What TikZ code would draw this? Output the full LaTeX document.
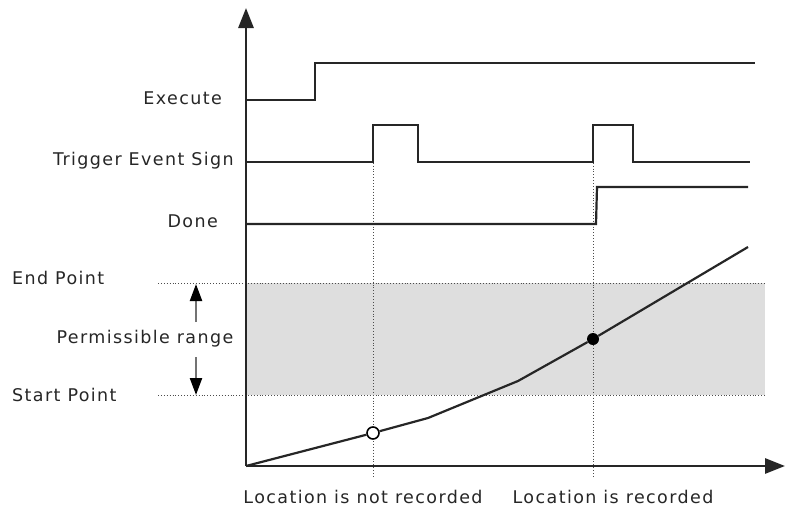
\documentclass[tikz,border=0pt]{standalone}
\usepackage{fontspec}
\setmainfont{Liberation Sans}
\newfontfamily\lblfont[LetterSpace=8]{DejaVu Sans}
\usetikzlibrary{positioning,arrows.meta,calc}

\begin{document}
\begin{tikzpicture}[x=1pt,y=-1pt,
  axis/.style={-{Triangle[length=20pt,width=15pt]}, line width=2.8pt, draw=black!85},
  sig/.style={line width=2.2pt, draw=black!85},
  guide/.style={dotted, line width=0.9pt, draw=black!70},
  rng/.style={-{Triangle[length=17pt,width=12pt,color=black]}, line width=2.2pt, draw=black!55},
  lab/.style={font=\lblfont\fontsize{17.5}{19}\selectfont, text=black!85, inner sep=0pt}]

\definecolor{bandcol}{RGB}{222,222,222}
\useasboundingbox (0,0) rectangle (786,512);

% ===== PERMISSIBLE BAND =====
\fill[bandcol] (246,283) rectangle (765,395);
\coordinate (endL) at (158,283);
\coordinate (endR) at (765,283);
\coordinate (startL) at (158,395);
\coordinate (startR) at (765,395);
\draw[guide] (endL) -- (endR);
\draw[guide] (startL) -- (startR);

% ===== GUIDES =====
\coordinate (g1top) at (373,125);
\coordinate (g1bot) at (373,477);
\coordinate (g2top) at (593,125);
\coordinate (g2bot) at (593,477);
\draw[guide] (g1top) -- (g1bot);
\draw[guide] (g2top) -- (g2bot);

% ===== AXES =====
\coordinate (orig) at (246,466);
\coordinate (ytip) at (246,8);
\coordinate (xtip) at (785,466);
\draw[axis] (orig) -- (ytip);
\draw[axis] (orig) -- (xtip);

% ===== SIGNALS =====
\draw[sig] (246,100) -- (315,100) -- (315,63) -- (755,63);
\draw[sig] (246,162) -- (373,162) -- (373,125) -- (418,125) -- (418,162)
  -- (593,162) -- (593,125) -- (633,125) -- (633,162) -- (750,162);
\draw[sig] (246,224) -- (596,224) -- (597,187) -- (748,187);

% ===== POSITION CURVE =====
\node[circle, draw=black, line width=1.6pt, fill=white, minimum size=12pt, inner sep=0pt] (miss) at (373,433) {};
\node[circle, fill=black, minimum size=12pt, inner sep=0pt] (hit) at (593,339) {};
\draw[sig] (orig) -- (miss);
\draw[sig] (miss) -- (428,418) -- (518,381) -- (hit);
\draw[sig] (hit) -- (748,247);

% ===== LABELS =====
\node[lab, anchor=east] (lexec) at (222,98) {Execute};
\node[lab, anchor=east] (ltrig) at (234,161) {Trigger Event Sign};
\node[lab, anchor=east] (ldone) at (218,221) {Done};
\node[lab, anchor=west] (lend) at (12,278) {End Point};
\node[lab, anchor=west] (lstart) at (12,395) {Start Point};
\node[lab] (lrange) at (145,339) {Permissible range};
\coordinate (upfrom) at (196,322);
\coordinate (upto) at (196,284);
\coordinate (dnfrom) at (196,357);
\coordinate (dnto) at (196,395);
\draw[rng] (upfrom) -- (upto);
\draw[rng] (dnfrom) -- (dnto);
\node[lab] (lnot) at (363,497) {Location is not recorded};
\node[lab] (lrec) at (613,497) {Location is recorded};

\end{tikzpicture}
\end{document}
